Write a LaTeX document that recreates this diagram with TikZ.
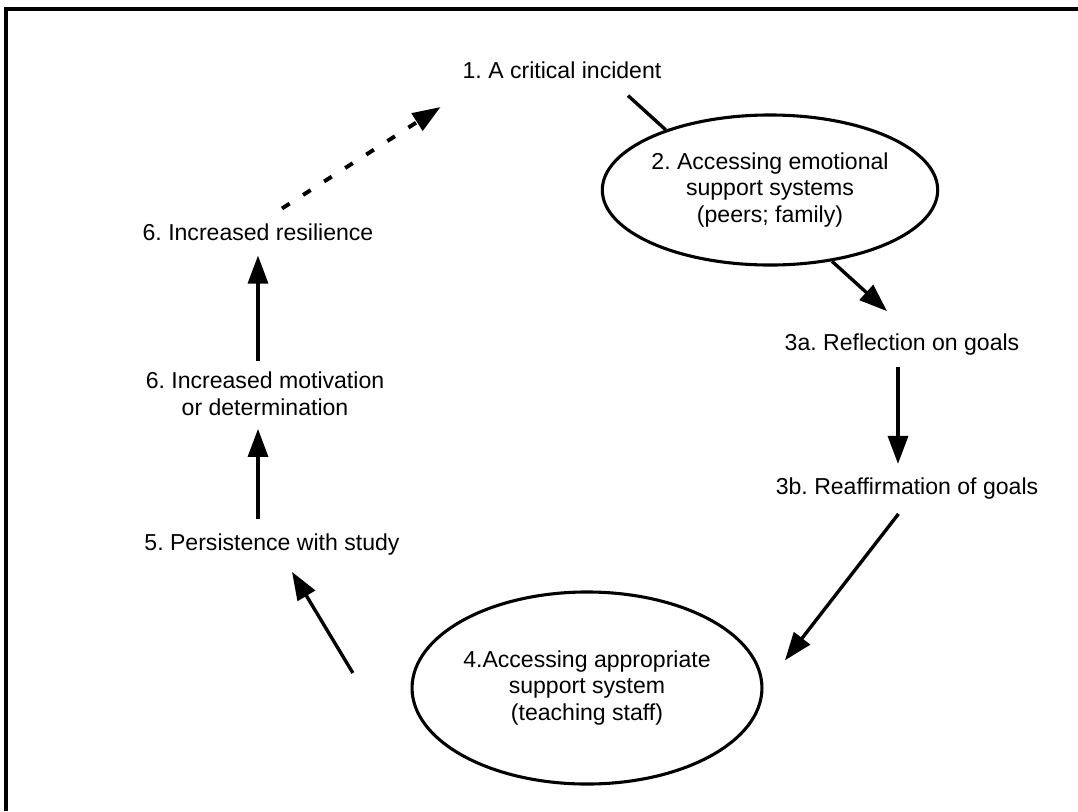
\documentclass[tikz,border=0pt]{standalone}
\usepackage{fontspec}
\setmainfont{Liberation Sans}
\usetikzlibrary{arrows.meta,shapes.geometric}
\frenchspacing

\begin{document}
\begin{tikzpicture}[
        x=0.025cm, y=-0.025cm,
        stage/.style={inner sep=2pt, align=center, font=\fontsize{16.4}{19}\selectfont},
        oval/.style={draw, ellipse, line width=2.2pt, inner sep=0pt, align=center,
                     font=\fontsize{16.4}{19}\selectfont},
        flow/.style={->, line width=2.4pt},
        link/.style={line width=2.4pt},
        >={Triangle[length=0.7cm, width=0.5cm]}
    ]
        \useasboundingbox (0,0) rectangle (1078,811);
        % frame
        \draw[line width=2.2pt] (6,811) -- (6,9) -- (1078,9);

        \node[stage] (crit) at (562,70) {1. A critical incident};
        \node[oval, minimum width=8.375cm, minimum height=3.75cm] (emo) at (770,190)
            {2. Accessing emotional\\support systems\\(peers; family)};
        \node[stage] (refl) at (902,345) {3a. Reflection on goals};
        \node[stage] (reaff) at (907,489) {3b. Reaffirmation of goals};
        \node[oval, minimum width=8.325cm, minimum height=4.8cm] (app) at (587,688)
            {4.Accessing appropriate\\support system\\(teaching staff)};
        \node[stage] (pers) at (272,545) {5. Persistence with study};
        \node[stage] (motiv) at (265,394) {6. Increased motivation\\or determination};
        \node[stage] (resil) at (258,232) {6. Increased resilience};

        \draw[link] ([xshift=1.65cm,yshift=-0.35cm]crit.south) -- (emo.150);
        \draw[flow] (emo.-49) -- ([xshift=-0.375cm,yshift=0.5cm]refl.north);
        \draw[flow, shorten <=6pt, shorten >=8pt] ([xshift=-0.1cm]refl.south) -- ([xshift=-0.1cm]refl.south |- reaff.north);
        \draw[flow, shorten <=0.35cm, shorten >=0.875cm] (reaff.south) -- (app.east);
        \draw[flow] ([xshift=-1.44cm,yshift=0.375cm]app.west) -- ([xshift=0.5cm,yshift=-0.325cm]pers.south);
        \draw[flow, shorten <=0.3cm, shorten >=0.25cm] ([xshift=-0.35cm]pers.north) -- ([xshift=-0.35cm]pers.north |- motiv.south);
        \draw[flow, shorten <=0.2cm, shorten >=0.3cm] (motiv.north -| resil) -- (resil.south);
        \draw[flow, dash pattern=on 0.225cm off 0.4cm, line width=2.8pt]
            ([xshift=0.6cm,yshift=0.3cm]resil.north) -- ([xshift=-0.475cm,yshift=-0.925cm]crit.west);
\end{tikzpicture}
\end{document}
